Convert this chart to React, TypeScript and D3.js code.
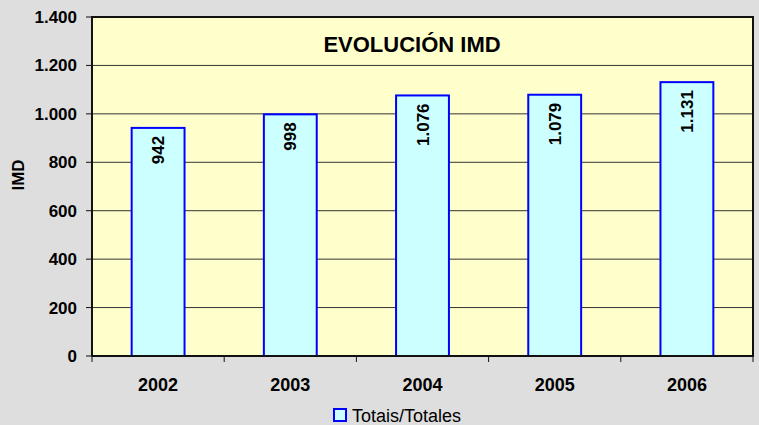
import { useEffect, useRef } from "react";
import * as d3 from "d3";

const years = ["2002", "2003", "2004", "2005", "2006"];
const imdValues = [942, 998, 1076, 1079, 1131];
const yTicks = [0, 200, 400, 600, 800, 1000, 1200, 1400];
const seriesName = "Totais/Totales";
const chartTitle = "EVOLUCIÓN IMD";

const W = 759;
const H = 425;
const margin = { left: 92, top: 17, right: 6, bottom: 69 };

const fmt = (v: number) => d3.format(",")(v).replace(/,/g, ".");

export default function App() {
  const svgRef = useRef<SVGSVGElement>(null);

  useEffect(() => {
    const svg = d3.select(svgRef.current);
    svg.selectAll("*").remove();
    const font = "'Liberation Sans', Arial, sans-serif";

    const x0 = margin.left;
    const x1 = W - margin.right;
    const y0 = margin.top;
    const y1 = H - margin.bottom;

    const x = d3.scaleBand().domain(years).range([x0, x1]).paddingInner(0.6).paddingOuter(0.3);
    const xb = d3.scaleBand().domain(years).range([x0, x1]);
    const y = d3.scaleLinear().domain([0, 1400]).range([y1, y0]);

    svg.append("rect").attr("width", W).attr("height", H).attr("fill", "#dedede");
    svg.append("rect")
      .attr("x", x0).attr("y", y0).attr("width", x1 - x0).attr("height", y1 - y0)
      .attr("fill", "#ffffcc");

    // gridlines
    svg.append("g").selectAll("line")
      .data(yTicks.filter(t => t > 0 && t < 1400))
      .enter().append("line")
      .attr("x1", x0).attr("x2", x1)
      .attr("y1", d => y(d)).attr("y2", d => y(d))
      .attr("stroke", "#333").attr("stroke-width", 1);

    // border
    svg.append("rect")
      .attr("x", x0).attr("y", y0).attr("width", x1 - x0).attr("height", y1 - y0)
      .attr("fill", "none").attr("stroke", "#111").attr("stroke-width", 2);

    // bars
    svg.append("g").selectAll("rect")
      .data(years)
      .enter().append("rect")
      .attr("x", d => x(d)!)
      .attr("y", (d, i) => y(imdValues[i]))
      .attr("width", x.bandwidth())
      .attr("height", (d, i) => y(0) - y(imdValues[i]))
      .attr("fill", "#ccffff")
      .attr("stroke", "#0000ff")
      .attr("stroke-width", 2);

    // value labels
    svg.append("g").selectAll("text")
      .data(years)
      .enter().append("text")
      .attr("transform", (d, i) => `translate(${x(d)! + x.bandwidth() / 2 + 6},${y(imdValues[i]) + 8}) rotate(-90)`)
      .attr("text-anchor", "end")
      .attr("font-family", font)
      .attr("font-size", 17)
      .attr("font-weight", "bold")
      .attr("fill", "#000")
      .text((d, i) => fmt(imdValues[i]));

    // y axis
    const ya = svg.append("g");
    ya.append("line").attr("x1", x0).attr("x2", x0).attr("y1", y0).attr("y2", y1)
      .attr("stroke", "#111").attr("stroke-width", 2);
    ya.selectAll("line.t").data(yTicks).enter().append("line")
      .attr("class", "t")
      .attr("x1", x0 - 6).attr("x2", x0).attr("y1", d => y(d)).attr("y2", d => y(d))
      .attr("stroke", "#111").attr("stroke-width", 1);
    ya.selectAll("text").data(yTicks).enter().append("text")
      .attr("x", x0 - 15).attr("y", d => y(d)).attr("dy", "0.35em")
      .attr("text-anchor", "end")
      .attr("font-family", font).attr("font-size", 17).attr("font-weight", "bold")
      .text(d => fmt(d));

    // x axis
    const xa = svg.append("g");
    xa.append("line").attr("x1", x0).attr("x2", x1).attr("y1", y1).attr("y2", y1)
      .attr("stroke", "#111").attr("stroke-width", 2);
    const tickXs = years.map(d => xb(d)!).concat([x1]);
    xa.selectAll("line.t").data(tickXs).enter().append("line")
      .attr("class", "t")
      .attr("x1", d => d).attr("x2", d => d).attr("y1", y1).attr("y2", y1 + 6)
      .attr("stroke", "#111").attr("stroke-width", 1);
    xa.selectAll("text").data(years).enter().append("text")
      .attr("x", d => xb(d)! + xb.bandwidth() / 2).attr("y", y1 + 35)
      .attr("text-anchor", "middle")
      .attr("font-family", font).attr("font-size", 18).attr("font-weight", "bold")
      .text(d => d);

    // titles
    svg.append("text")
      .attr("x", 412).attr("y", 52)
      .attr("text-anchor", "middle")
      .attr("font-family", font).attr("font-size", 22).attr("font-weight", "bold")
      .text(chartTitle);
    svg.append("text")
      .attr("transform", `translate(24,175) rotate(-90)`)
      .attr("text-anchor", "middle")
      .attr("font-family", font).attr("font-size", 17).attr("font-weight", "bold")
      .text("IMD");

    // legend
    svg.append("rect")
      .attr("x", 334).attr("y", 409).attr("width", 12).attr("height", 12)
      .attr("fill", "#ccffff").attr("stroke", "#0000ff").attr("stroke-width", 2);
    svg.append("text")
      .attr("x", 352).attr("y", 422)
      .attr("font-family", font).attr("font-size", 18)
      .text(seriesName);
  }, []);

  return (
    <svg ref={svgRef} width={W} height={H}
      style={{ position: "absolute", left: 0, top: 0, display: "block" }} />
  );
}
